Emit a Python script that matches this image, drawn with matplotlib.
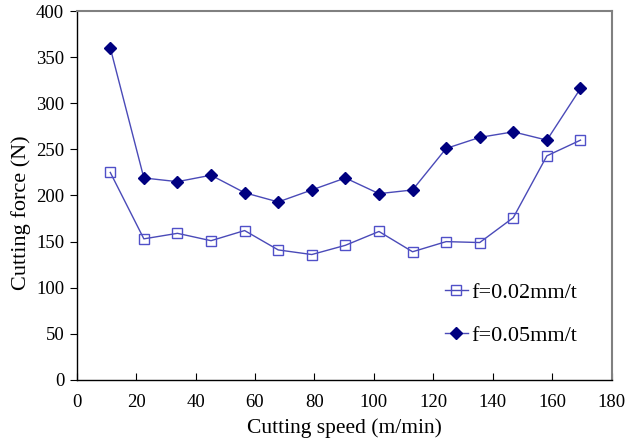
import matplotlib.pyplot as plt

# data
speed = [11.3, 22.6, 33.9, 45.2, 56.5, 67.8, 79.1, 90.4, 101.7, 113.0, 124.3, 135.6, 146.9, 158.2, 169.5]
force_002 = [225, 153, 159, 151, 162, 141, 136, 146, 161, 139, 150, 149, 176, 243, 260]
force_005 = [360, 219, 215, 222, 203, 193, 206, 219, 202, 206, 251, 263, 269, 260, 316]
labels = ['f=0.02mm/t', 'f=0.05mm/t']

plt.rcParams['font.family'] = ['Liberation Serif', 'DejaVu Serif']
plt.rcParams['font.size'] = 13.5

fig = plt.figure(figsize=(6.25, 4.42), dpi=100)
ax = fig.add_axes([0.1227, 0.1403, 0.856, 0.8348])

line_col = '#4a4ab8'
ax.plot(speed, force_002, color=line_col, lw=1.0, marker='s', ms=6.5,
        mfc='none', mec='#5050c8', mew=1.0, label=labels[0])
ax.plot(speed, force_005, color=line_col, lw=1.0, marker='D', ms=6,
        mfc='#000080', mec='#000080', label=labels[1])

ax.set_xlim(0, 180)
ax.set_ylim(0, 400)
ax.set_xticks(range(0, 181, 20))
ax.set_yticks(range(0, 401, 50))
ax.tick_params(axis='x', direction='in', length=5, pad=10, labelsize=13.5)
ax.tick_params(axis='y', direction='out', length=5, pad=4, labelsize=13.5)

for s in ['top', 'right']:
    ax.spines[s].set_color('#808080')
    ax.spines[s].set_linewidth(1.5)
for s in ['left', 'bottom']:
    ax.spines[s].set_color('black')
    ax.spines[s].set_linewidth(1.0)

ax.set_xlabel('Cutting speed (m/min)', fontsize=15.5, labelpad=5)
ax.set_ylabel('Cutting force (N)', fontsize=16, va='center')
ax.yaxis.set_label_coords(-0.104, 0.454)

ax.legend(loc='center left', bbox_to_anchor=(0.689, 0.179), frameon=False,
          borderaxespad=0, borderpad=0, fontsize=16,
          handlelength=1.0, handletextpad=0.15, labelspacing=1.0)

fig.savefig('out.png', dpi=100)
